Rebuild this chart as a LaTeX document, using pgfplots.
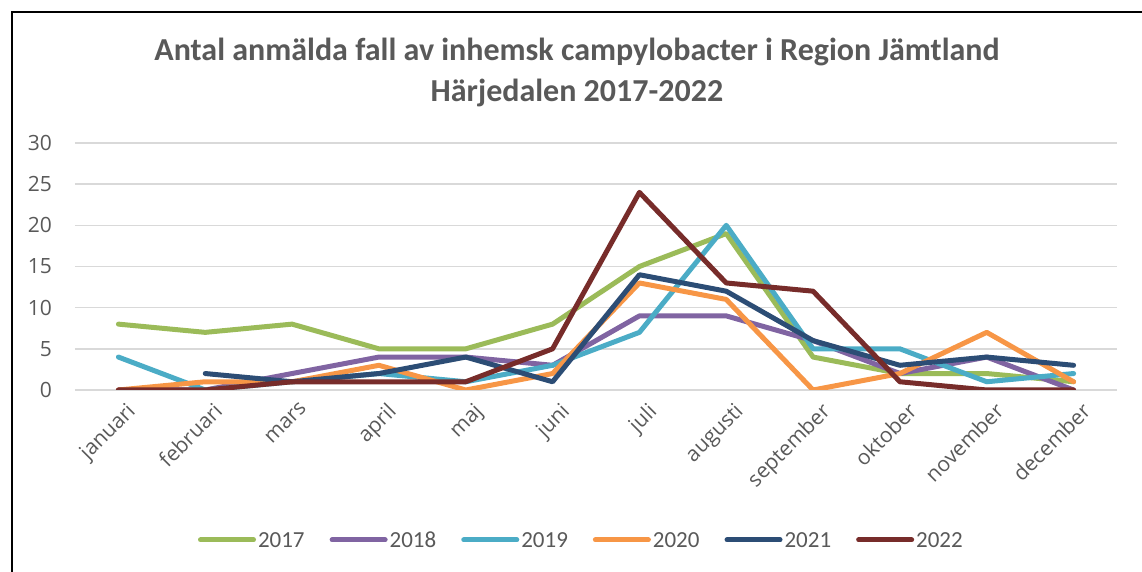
\documentclass[border=0pt]{standalone}
\usepackage{pgfplots}
\pgfplotsset{compat=1.18}
\usepackage{fontspec}
\setmainfont{Carlito}
\newfontfamily\tickfont{Open Sans}
\definecolor{c17}{HTML}{9BBB59}
\definecolor{c18}{HTML}{8064A2}
\definecolor{c19}{HTML}{4BACC6}
\definecolor{c20}{HTML}{F79646}
\definecolor{c21}{HTML}{2C4D75}
\definecolor{c22}{HTML}{772C2A}
\definecolor{txt}{HTML}{595959}
\definecolor{grd}{HTML}{D9D9D9}
\begin{document}
\begin{tikzpicture}
\useasboundingbox (-37.5pt,-91pt) rectangle (533.5pt,195pt);
\draw[black, line width=1pt] (-31.5pt,-120pt) -- (-31.5pt,189pt) -- (560pt,189pt);
\node[text=txt, font=\fontsize{16}{20.5}\selectfont\bfseries, align=center] at (251pt,158.75pt) {Antal anmälda fall av inhemsk campylobacter i Region Jämtland\\Härjedalen 2017-2022};
\begin{axis}[
  at={(0,0)}, anchor=south west,
  scale only axis, width=521pt, height=123.5pt,
  xmin=-0.5, xmax=11.5, ymin=0, ymax=30,
  ytick={0,5,...,30},
  xtick={0,...,11},
  xticklabels={januari,februari,mars,april,maj,juni,juli,augusti,september,oktober,november,december},
  x tick label style={rotate=45, anchor=north east, font=\tickfont\fontsize{10.5}{12}\selectfont, text=txt, yshift=-3pt, xshift=2pt},
  y tick label style={font=\tickfont\fontsize{10.5}{12}\selectfont, text=txt, xshift=-8pt},
  /pgf/number format/assume math mode=true,
  ymajorgrids, grid style={color=grd, line width=0.8pt},
  axis line style={draw=none}, tick style={draw=none},
  legend columns=6,
  legend style={at={(0.486,-0.607)}, anchor=center, draw=none, fill=none,
    font=\fontsize{11.5}{13}\selectfont, text=txt,
    nodes={inner xsep=1pt, text height=1.6ex, text depth=0pt},
    /tikz/every odd column/.append style={column sep=0pt},
    /tikz/every even column/.append style={column sep=11.5pt},
    legend cell align=left},
  legend image code/.code={\draw[#1, line cap=round] (0pt,0pt) -- (26.5pt,0pt);},
  every axis plot/.append style={line width=2.5pt, line join=round, line cap=round, mark=none},
]
\addplot[c17] coordinates {(0,8)(1,7)(2,8)(3,5)(4,5)(5,8)(6,15)(7,19)(8,4)(9,2)(10,2)(11,1)};
\addplot[c18] coordinates {(0,0)(1,0)(2,2)(3,4)(4,4)(5,3)(6,9)(7,9)(8,6)(9,2)(10,4)(11,0)};
\addplot[c19] coordinates {(0,4)(1,0)(2,1)(3,2)(4,1)(5,3)(6,7)(7,20)(8,5)(9,5)(10,1)(11,2)};
\addplot[c20] coordinates {(0,0)(1,1)(2,1)(3,3)(4,0)(5,2)(6,13)(7,11)(8,0)(9,2)(10,7)(11,1)};
\addplot[c21] coordinates {(1,2)(2,1)(3,2)(4,4)(5,1)(6,14)(7,12)(8,6)(9,3)(10,4)(11,3)};
\addplot[c22] coordinates {(0,0)(1,0)(2,1)(3,1)(4,1)(5,5)(6,24)(7,13)(8,12)(9,1)(10,0)(11,0)};
\legend{2017,2018,2019,2020,2021,2022}
\end{axis}
\end{tikzpicture}
\end{document}
